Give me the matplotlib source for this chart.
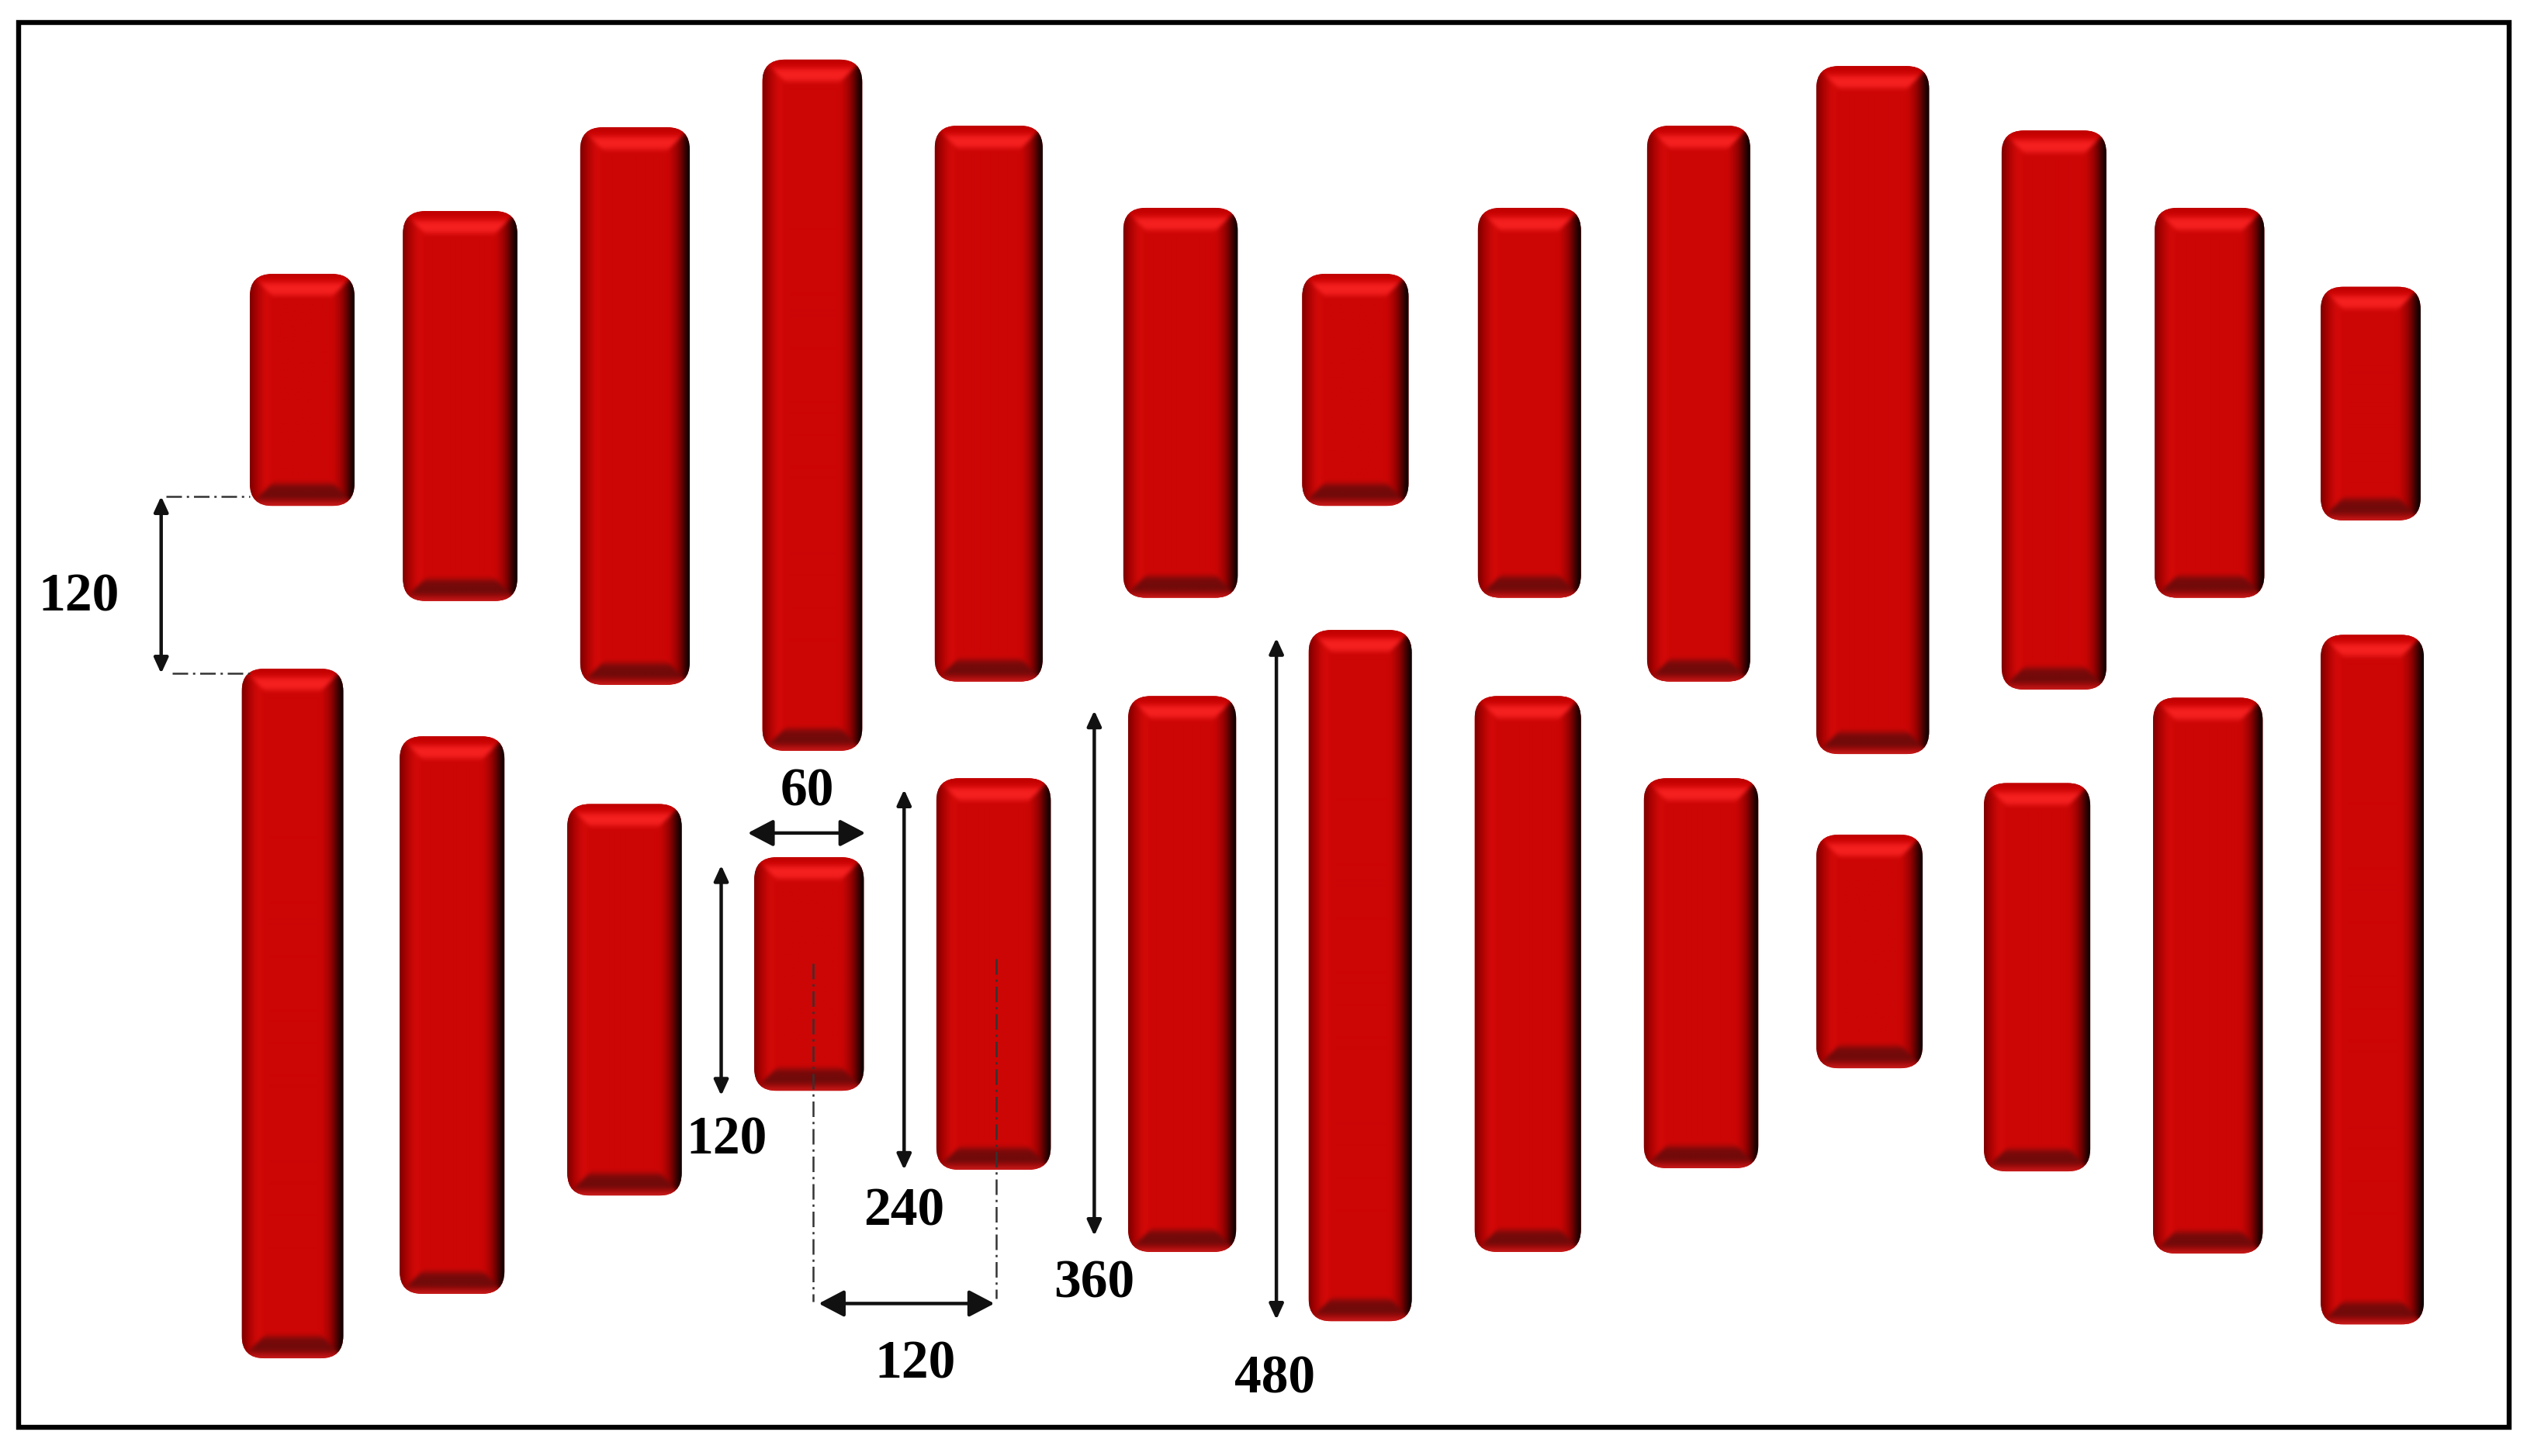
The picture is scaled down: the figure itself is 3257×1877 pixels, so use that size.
import numpy as np
import matplotlib
matplotlib.use('Agg')
import matplotlib.pyplot as plt
from matplotlib.patches import FancyBboxPatch, Rectangle

# bar edges (1568 wide view of the reference)
top_left = [155, 250, 360, 473, 580, 697, 808, 917, 1022, 1127, 1242, 1337, 1440]
top_right = [220, 321, 428, 535, 647, 768, 874, 981, 1086, 1197, 1307, 1405, 1502]
top_start = [170, 131, 79, 37, 78, 129, 170, 129, 78, 41, 81, 129, 178]
top_end = [314, 373, 425, 466, 423, 371, 314, 371, 423, 468, 428, 371, 323]

bottom_left = [150, 248, 352, 468, 581, 700, 812, 915, 1020, 1127, 1231, 1336, 1440]
bottom_right = [213, 313, 423, 536, 652, 767, 876, 981, 1091, 1193, 1297, 1404, 1504]
bottom_start = [415, 457, 499, 532, 483, 432, 391, 432, 483, 518, 486, 433, 394]
bottom_end = [843, 803, 742, 677, 726, 777, 820, 777, 725, 663, 727, 778, 822]

# dimension arrows: x0, y0, x1, y1
thin_arrows = [(100, 308, 100, 418), (447.5, 537, 447.5, 680), (561, 490, 561, 726),
               (679, 441, 679, 767), (792, 396, 792, 819)]
wide_arrows = [(464, 517, 537, 517), (508, 809, 617, 809)]
guide_lines = [(103, 308, 155, 308), (107, 418, 155, 418),
               (504.5, 598, 504.5, 808), (618, 595, 618, 806)]

labels = ['120', '60', '120', '240', '360', '120', '480']
label_x = [49, 501, 451, 561, 679, 568, 791]
label_y = [371, 492, 708, 752, 797, 847, 856]

SCALE = 3257 / 1568
BASE = np.array([204, 6, 5], dtype=float)
BEVEL = 30
KERNEL = np.array([1, 2, 3, 4, 5, 6, 5, 4, 3, 2, 1], dtype=float) / 36


def ramp(dist, stops, colors):
    out = np.zeros(dist.shape + (3,))
    for c in range(3):
        out[..., c] = np.interp(dist, stops, [col[c] for col in colors])
    return out


def soften(img):
    pad = len(KERNEL) // 2
    out = np.pad(img, ((pad, pad), (pad, pad), (0, 0)), mode='edge')
    out = np.apply_along_axis(np.convolve, 0, out, KERNEL, mode='same')
    out = np.apply_along_axis(np.convolve, 1, out, KERNEL, mode='same')
    return out[pad:-pad, pad:-pad]


# shaded bar image: four mitred bevel strips round a flat red face
def bar_image(w, h):
    # draw on a larger canvas so softening keeps the dark rim at the edge
    grow = 6
    yy, xx = np.mgrid[0:h + 2 * grow, 0:w + 2 * grow] + 0.5 - grow
    d_left, d_right = xx, w - xx
    d_top, d_bottom = yy, h - yy
    img = np.ones(xx.shape + (3,)) * BASE

    left = ramp(d_left, [0, 6, 20, 30], [(120, 0, 0), (160, 0, 0), (212, 10, 8), BASE])
    right = ramp(d_right, [0, 6, 16, 28], [(0, 0, 0), (50, 0, 0), (150, 2, 2), BASE])
    top = ramp(d_top, [0, 9, 16, 25, 32], [(190, 0, 0), (205, 4, 4), (245, 32, 32), (245, 32, 32), BASE])
    bottom = ramp(d_bottom, [0, 6, 12, 24, 32], [(205, 30, 30), (165, 10, 10), (112, 10, 10), (120, 10, 10), BASE])

    m = d_left < BEVEL
    img[m] = left[m]
    m = d_right < BEVEL
    img[m] = right[m]
    m = (d_top < BEVEL + 2) & (d_top <= d_left) & (d_top <= d_right)
    img[m] = top[m]
    m = (d_bottom < BEVEL + 2) & (d_bottom <= d_left) & (d_bottom <= d_right)
    img[m] = bottom[m]
    return soften(img / 255)[grow:-grow, grow:-grow]


def draw_bar(ax, x0, x1, y0, y1):
    w = int(round((x1 - x0) * SCALE))
    h = int(round((y1 - y0) * SCALE))
    box = FancyBboxPatch((x0, y0), x1 - x0, y1 - y0,
                         boxstyle='round,pad=0,rounding_size=14',
                         fc='#cc0605', ec='none', zorder=2)
    ax.add_patch(box)
    im = ax.imshow(np.clip(bar_image(w, h), 0, 1), extent=(x0, x1, y1, y0), origin='upper',
                   aspect='auto', interpolation='bilinear', zorder=3)
    im.set_clip_path(box)


fig = plt.figure(figsize=(32.57, 18.77), dpi=100, facecolor='white')
ax = fig.add_axes([0, 0, 1, 1])

for x0, x1, y0, y1 in zip(top_left, top_right, top_start, top_end):
    draw_bar(ax, x0, x1, y0, y1)
for x0, x1, y0, y1 in zip(bottom_left, bottom_right, bottom_start, bottom_end):
    draw_bar(ax, x0, x1, y0, y1)

for x0, y0, x1, y1 in guide_lines:
    ax.plot([x0, x1], [y0, y1], color='#333333', lw=1.8,
            linestyle=(0, (8, 2.5, 1.2, 2.5)), zorder=4)

for x0, y0, x1, y1 in thin_arrows:
    ax.annotate('', xy=(x1, y1), xytext=(x0, y0), zorder=5,
                arrowprops=dict(arrowstyle='<|-|>,head_length=12,head_width=5.5', mutation_scale=1,
                                color='#111111', lw=3.2, shrinkA=0, shrinkB=0))
for x0, y0, x1, y1 in wide_arrows:
    ax.annotate('', xy=(x1, y1), xytext=(x0, y0), zorder=5,
                arrowprops=dict(arrowstyle='<|-|>,head_length=20,head_width=10.5', mutation_scale=1,
                                color='#111111', lw=3.2, shrinkA=0, shrinkB=0))

for text, x, y in zip(labels, label_x, label_y):
    ax.text(x, y, text, ha='center', va='center', fontsize=50, fontweight='bold',
            family='Liberation Serif', color='black', zorder=6)

ax.add_patch(Rectangle((11.5, 14), 1545.5, 872, fc='none', ec='black', lw=4.6, zorder=7))

ax.set_xlim(0, 1568)
ax.set_ylim(1877 / SCALE, 0)
ax.axis('off')

fig.savefig('out.png', dpi=100, facecolor='white')
